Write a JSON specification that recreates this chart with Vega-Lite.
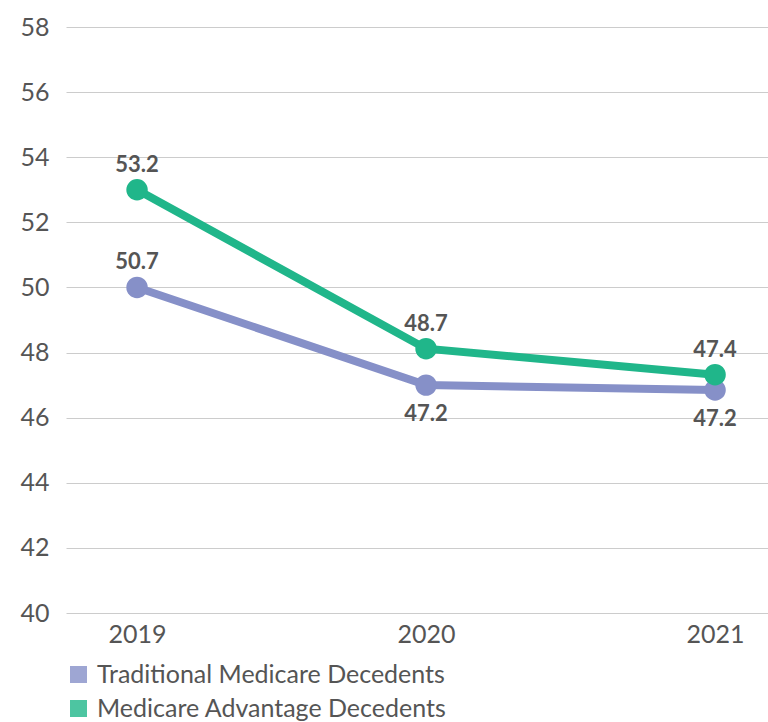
{
  "$schema": "https://vega.github.io/schema/vega-lite/v6.json",
  "width": 702,
  "height": 586,
  "autosize": {"type": "none"},
  "padding": {"left": 66, "top": 27, "right": 0, "bottom": 109},
  "background": "white",
  "config": {
    "view": {"stroke": null},
    "font": "Lato",
    "axis": {"labelFont": "Lato", "labelColor": "#555555", "labelFontSize": 25, "labelFontWeight": 400},
    "legend": {"labelFont": "Lato"}
  },
  "data": {
    "values": [
      {"year": "2019", "series": "Traditional Medicare Decedents", "plotted": 50.0, "label": "50.7"},
      {"year": "2020", "series": "Traditional Medicare Decedents", "plotted": 47.0, "label": "47.2"},
      {"year": "2021", "series": "Traditional Medicare Decedents", "plotted": 46.85, "label": "47.2"},
      {"year": "2019", "series": "Medicare Advantage Decedents", "plotted": 53.0, "label": "53.2"},
      {"year": "2020", "series": "Medicare Advantage Decedents", "plotted": 48.12, "label": "48.7"},
      {"year": "2021", "series": "Medicare Advantage Decedents", "plotted": 47.32, "label": "47.4"}
    ]
  },
  "encoding": {
    "x": {
      "field": "year", "type": "ordinal",
      "scale": {"type": "point", "padding": 0.2145, "align": 0.573},
      "axis": {"title": null, "labelAngle": 0, "ticks": false, "domain": false, "grid": false, "labelPadding": 9}
    },
    "y": {
      "field": "plotted", "type": "quantitative",
      "scale": {"domain": [40, 58], "nice": false, "zero": false},
      "axis": {"title": null, "values": [40, 42, 44, 46, 48, 50, 52, 54, 56, 58], "ticks": false, "domain": false, "grid": true, "gridColor": "#cccccc", "gridWidth": 1, "labelPadding": 17}
    },
    "color": {
      "field": "series", "type": "nominal",
      "scale": {"domain": ["Traditional Medicare Decedents", "Medicare Advantage Decedents"], "range": ["#8690c8", "#20b68a"]},
      "legend": {
        "title": null, "orient": "none", "legendX": 0, "legendY": 635,
        "direction": "vertical", "symbolType": "square", "symbolSize": 289,
        "symbolOpacity": 0.8, "symbolStrokeWidth": 0,
        "labelFontSize": 25, "labelColor": "#555555", "labelOffset": 6, "labelLimit": 600, "rowPadding": 8
      }
    }
  },
  "layer": [
    {"mark": {"type": "line", "strokeWidth": 8}},
    {"mark": {"type": "point", "filled": true, "size": 460, "opacity": 1}},
    {
      "transform": [{"filter": "datum.series == 'Medicare Advantage Decedents' || datum.year == '2019'"}],
      "mark": {"type": "text", "dy": -25, "fontSize": 22, "fontWeight": "bold"},
      "encoding": {"text": {"field": "label"}, "color": {"value": "#555555"}}
    },
    {
      "transform": [{"filter": "datum.series == 'Traditional Medicare Decedents' && datum.year != '2019'"}],
      "mark": {"type": "text", "dy": 29, "fontSize": 22, "fontWeight": "bold"},
      "encoding": {"text": {"field": "label"}, "color": {"value": "#555555"}}
    }
  ]
}
